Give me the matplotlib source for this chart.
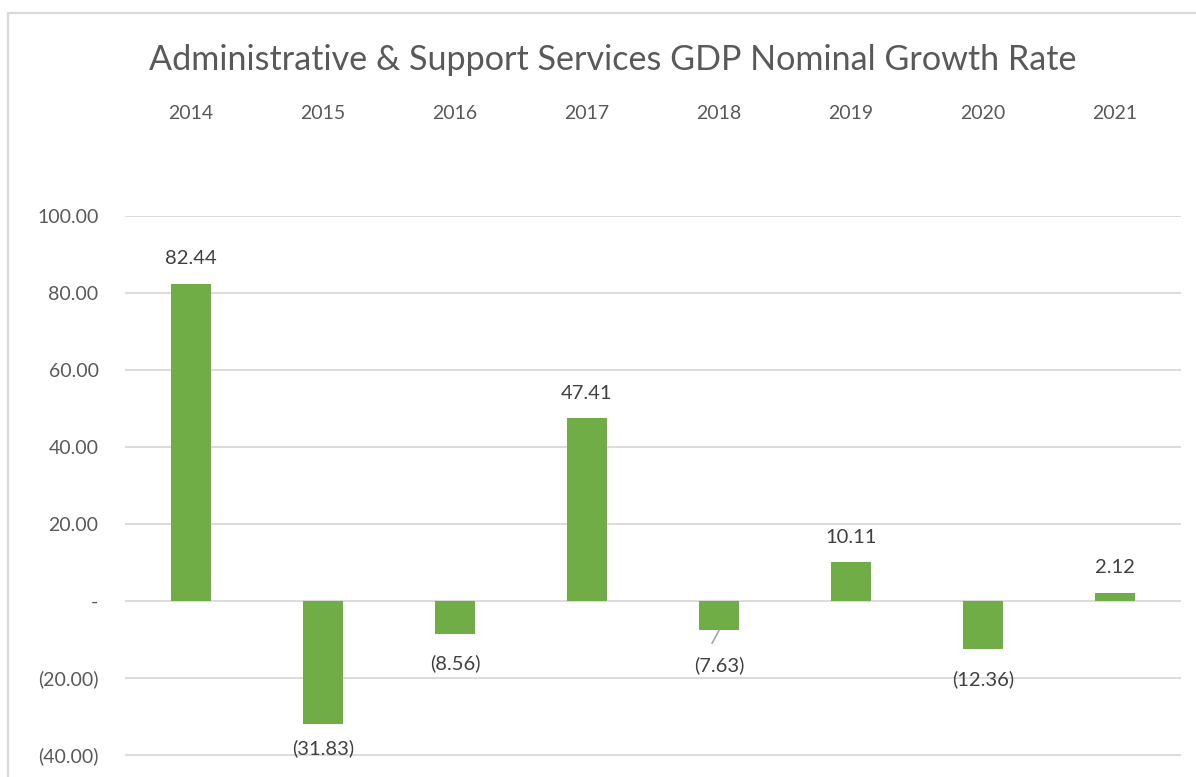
import matplotlib
matplotlib.use("Agg")
import matplotlib.pyplot as plt
from matplotlib.lines import Line2D

# Chart data
years = ["2014", "2015", "2016", "2017", "2018", "2019", "2020", "2021"]
growth = [82.44, -31.83, -8.56, 47.41, -7.63, 10.11, -12.36, 2.12]
y_ticks = [-40, -20, 0, 20, 40, 60, 80, 100]

title = "Administrative & Support Services GDP Nominal Growth Rate"

plt.rcParams["font.family"] = ["Lato", "DejaVu Sans"]

W, H = 1196, 777
fig = plt.figure(figsize=(W / 100, H / 100), dpi=100)
fig.patch.set_facecolor("white")


def fx(px):
    return px / W


def fy(px):
    return 1 - px / H


# plot area
ax = fig.add_axes([fx(125), 0, fx(1181) - fx(125), fy(216)])
ax.set_xlim(-0.5, len(years) - 0.5)
ax.set_ylim(-45.71, 100)

bar_color = "#70AD47"
grid_color = "#D9D9D9"
tick_color = "#595959"
label_color = "#404040"
fs = 14

for v in y_ticks:
    ax.axhline(v, color=grid_color, lw=1.3, zorder=0)

x = list(range(len(years)))
ax.bar(x, growth, width=0.31, color=bar_color, zorder=2)

for s in ax.spines.values():
    s.set_visible(False)


def fmt(v):
    if v == 0:
        return "-"
    if v < 0:
        return f"({abs(v):.2f})"
    return f"{v:.2f}"


ax.set_yticks(y_ticks)
ax.set_yticklabels([fmt(v) for v in y_ticks])
ax.tick_params(axis="y", length=0, pad=19, labelsize=fs, labelcolor=tick_color)

ax.xaxis.tick_top()
ax.set_xticks(x)
ax.set_xticklabels(years)
ax.tick_params(axis="x", length=0, pad=68, labelsize=fs, labelcolor=tick_color)

# data labels, vertical offsets in pixels from the bar end
offsets_px = [25, -25, -29, 25, -35, 25, -31, 25]
for xi, v, off in zip(x, growth, offsets_px):
    ax.annotate(fmt(v), (xi, v), xytext=(0, off * 0.72), textcoords="offset points",
                ha="center", va="center", fontsize=fs + 0.5, color=label_color, zorder=3)

# leader line for the 2018 label
i18 = years.index("2018")
ax.annotate("", (i18, growth[i18]), xytext=(-7 * 0.72, -13 * 0.72),
            textcoords="offset points",
            arrowprops=dict(arrowstyle="-", color="#A6A6A6", lw=1.2,
                            shrinkA=0, shrinkB=0))

fig.text(fx(613), fy(60), title, ha="center", va="center", fontsize=24.6,
         color=tick_color)

# chart frame
fig.add_artist(Line2D([fx(8), fx(8), 1], [0, fy(13), fy(13)], color=grid_color,
                      lw=1.6, transform=fig.transFigure))

fig.savefig("out.png", dpi=100)
